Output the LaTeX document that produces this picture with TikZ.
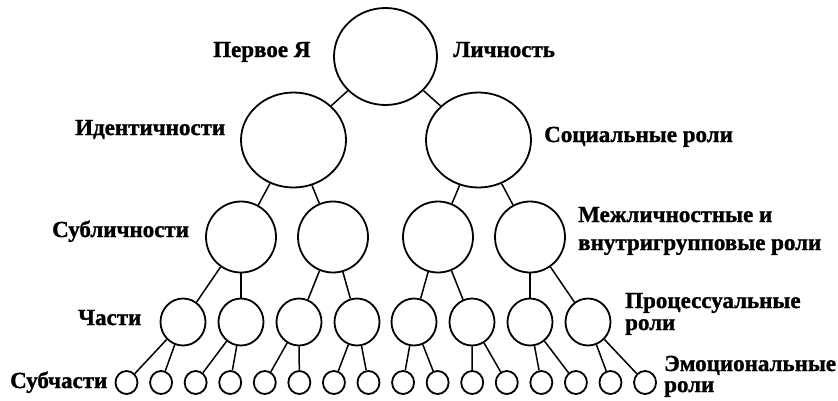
\documentclass[tikz,border=0pt]{standalone}
\usepackage{fontspec}
\setmainfont{Liberation Serif}[BoldFeatures={FakeBold=1.2}]
\usetikzlibrary{shapes.geometric}
\begin{document}
\begin{tikzpicture}[x=1pt,y=-1pt,
  ring/.style={ellipse,draw,line width=1.8pt,inner sep=0pt},
  rootring/.style={ring,minimum width=103pt,minimum height=97pt},
  bigring/.style={ring,minimum width=105pt,minimum height=95pt},
  midring/.style={ring,minimum width=70pt,minimum height=71pt},
  smallring/.style={ring,minimum width=45pt,minimum height=47pt},
  tinyring/.style={ring,minimum width=22pt,minimum height=23pt},
  link/.style={line width=1.5pt},
  lbl/.style={anchor=base west,inner sep=0pt,font=\bfseries\fontsize{23}{23}\selectfont}]
\useasboundingbox (0,0) rectangle (838,400);

% nodes
\node[rootring] (r) at (385.5,56.5) {};
\node[bigring] (a1) at (293.5,140) {};
\node[bigring] (a2) at (478.5,140) {};
\foreach \i/\x in {1/241,2/333,3/438,4/530}
  \node[midring] (b\i) at (\x,237) {};
\foreach \i/\x in {1/183,2/241,3/299,4/357,5/414,6/472,7/530,8/588}
  \node[smallring] (c\i) at (\x,322) {};
\foreach \i in {1,...,16}
  \node[tinyring] (d\i) at ({126.5+34.57*(\i-1)},382.5) {};

% connectors
\draw[link] (r) -- (a1);
\draw[link] (r) -- (a2);
\draw[link] (a1) -- (b1);
\draw[link] (a1) -- (b2);
\draw[link] (a2) -- (b3);
\draw[link] (a2) -- (b4);
\foreach \p/\k in {1/1,1/2,2/3,2/4,3/5,3/6,4/7,4/8}
  \draw[link] (b\p) -- (c\k);
\foreach \p in {1,...,8}{
  \pgfmathtruncatemacro{\ka}{2*\p-1}
  \pgfmathtruncatemacro{\kb}{2*\p}
  \draw[link] (c\p) -- (d\ka);
  \draw[link] (c\p) -- (d\kb);
}

% labels
\node[lbl] (t1) at (213,57) {Первое Я};
\node[lbl] (t2) at (453,57) {Личность};
\node[lbl] (t3) at (75,135) {Идентичности};
\node[lbl] (t4) at (544,142) {Социальные роли};
\node[lbl] (t5) at (52,237) {Субличности};
\node[lbl] (t6) at (578,222) {Межличностные и};
\node[lbl] (t7) at (578,250) {внутригрупповые роли};
\node[lbl] (t8) at (78,325) {Части};
\node[lbl] (t9) at (625,308) {Процессуальные};
\node[lbl] (t10) at (625,330) {роли};
\node[lbl] (t11) at (10,388) {Субчасти};
\node[lbl] (t12) at (664,371) {Эмоциональные};
\node[lbl] (t13) at (664,392) {роли};
\end{tikzpicture}
\end{document}
